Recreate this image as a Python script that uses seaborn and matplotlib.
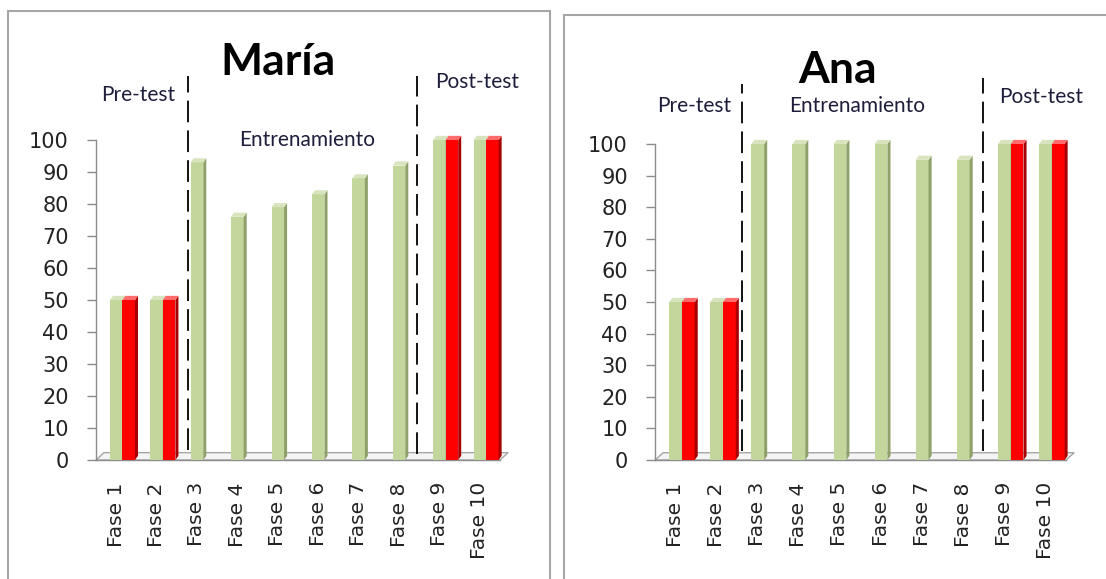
import matplotlib
matplotlib.use("Agg")
import matplotlib.pyplot as plt
from matplotlib.patches import Polygon, Rectangle
import numpy as np
import pandas as pd
import seaborn as sns

# Phases on the category axis
fases = ["Fase 1", "Fase 2", "Fase 3", "Fase 4", "Fase 5",
         "Fase 6", "Fase 7", "Fase 8", "Fase 9", "Fase 10"]

# Green series: score in every phase
maria_verde = [50, 50, 93, 76, 79, 83, 88, 92, 100, 100]
ana_verde = [50, 50, 100, 100, 100, 100, 95, 95, 100, 100]

# Red series: only the pre-test and post-test phases
fases_test = ["Fase 1", "Fase 2", "Fase 9", "Fase 10"]
maria_rojo = [50, 50, 100, 100]
ana_rojo = [50, 50, 100, 100]

y_ticks = list(range(0, 101, 10))

sns.set_theme(style="white")
plt.rcParams["font.family"] = ["DejaVu Sans"]

VERDE = "#C3D69B"
VERDE_LADO = "#8FA06A"
VERDE_TOPE = "#D8E4BE"
ROJO = "#FF0000"
ROJO_LADO = "#A80000"
ROJO_TOPE = "#FF6A6A"
GRIS = "#8C8C8C"
TEXTO = "#1E1E3C"
ANOTA_FONT = ["Lato", "DejaVu Sans"]

DX, DY = 0.075, 1.3  # depth of the 3-D look, in data units


def add_depth(ax, patches, side_color, top_color):
    for p in patches:
        x0, w, h = p.get_x(), p.get_width(), p.get_height()
        x1 = x0 + w
        z = p.get_zorder()
        p.set_clip_on(False)
        ax.add_patch(Polygon([(x1, 0), (x1 + DX, DY), (x1 + DX, h + DY), (x1, h)],
                             closed=True, fc=side_color, ec="none", zorder=z,
                             clip_on=False))
        ax.add_patch(Polygon([(x0, h), (x0 + DX, h + DY), (x1 + DX, h + DY), (x1, h)],
                             closed=True, fc=top_color, ec="none", zorder=z,
                             clip_on=False))


def draw_panel(ax, titulo, verde, rojo, cortes, pos_pre, pos_ent, pos_post, pos_tit):
    # floor of the plot
    floor = Polygon([(-0.5, 0), (9.5, 0), (9.5 + 0.2, 2.3), (-0.5 + 0.2, 2.3)],
                    closed=True, fc="#F4F4F4", ec="#A6A6A6", lw=1.0,
                    zorder=1, clip_on=False)
    ax.add_patch(floor)

    n0 = len(ax.patches)
    sns.barplot(x=fases, y=verde, order=fases, color=VERDE, saturation=1,
                width=0.31, ax=ax, edgecolor="none", zorder=3)
    verdes = [p for p in ax.patches[n0:] if np.isfinite(p.get_height()) and p.get_height() > 0]
    add_depth(ax, verdes, VERDE_LADO, VERDE_TOPE)

    n1 = len(ax.patches)
    df_rojo = pd.DataFrame({"fase": fases_test, "valor": rojo})
    sns.barplot(data=df_rojo, x="fase", y="valor", order=fases, color=ROJO,
                saturation=1, width=0.31, ax=ax, edgecolor="none", zorder=4)
    rojos = [p for p in ax.patches[n1:] if np.isfinite(p.get_height()) and p.get_height() > 0]
    for p in rojos:
        p.set_x(p.get_x() + p.get_width())
    add_depth(ax, rojos, ROJO_LADO, ROJO_TOPE)

    ax.set_xlim(-0.5, 9.5)
    ax.set_ylim(0, 100)
    ax.set_yticks(y_ticks)
    ax.set_yticklabels([str(v) for v in y_ticks])
    ax.set_xticks(range(len(fases)))
    ax.set_xticklabels(fases, rotation=90, va="top", ha="center")
    ax.set_xlabel("")
    ax.set_ylabel("")
    ax.tick_params(axis="y", length=6.5, width=1.0, color=GRIS, pad=13,
                   labelsize=15, labelcolor="#222222", left=True)
    ax.tick_params(axis="x", length=0, pad=16, labelsize=14.5, labelcolor="#222222")
    for s in ("top", "right"):
        ax.spines[s].set_visible(False)
    ax.spines["left"].set_color(GRIS)
    ax.spines["left"].set_linewidth(1.0)
    ax.spines["bottom"].set_color(GRIS)
    ax.spines["bottom"].set_linewidth(1.0)
    ax.set_facecolor("none")
    ax.grid(False)

    for xc, (y0, y1) in cortes:
        ax.plot([xc, xc], [y0, y1], color="black", lw=1.3, ls=(0, (12, 4.5)),
                clip_on=False, zorder=5)

    ax.text(*pos_pre, "Pre-test", ha="center", va="center", fontsize=15,
            color=TEXTO, family=ANOTA_FONT)
    ax.text(*pos_ent, "Entrenamiento", ha="center", va="center", fontsize=15,
            color=TEXTO, family=ANOTA_FONT)
    ax.text(*pos_post, "Post-test", ha="center", va="center", fontsize=15,
            color=TEXTO, family=ANOTA_FONT)
    ax.text(*pos_tit, titulo, ha="center", va="center", fontsize=32,
            fontweight="bold", color="black", family=ANOTA_FONT)


fig = plt.figure(figsize=(11.06, 5.79), dpi=100)
fig.patch.set_facecolor("white")

# panel frames
fig.patches.append(Rectangle((8 / 1106, -0.02), (550 - 8) / 1106, 1.02 - 11 / 579,
                             transform=fig.transFigure, fill=False, ec="#A6A6A6", lw=1.5))
fig.patches.append(Rectangle((564 / 1106, -0.02), 0.5, 1.02 - 15 / 579,
                             transform=fig.transFigure, fill=False, ec="#A6A6A6", lw=1.5))

ax1 = fig.add_axes([96 / 1106, 119 / 579, 404 / 1106, 320 / 579])
ax2 = fig.add_axes([655 / 1106, 119 / 579, 411 / 1106, 316 / 579])

draw_panel(ax1, "María", maria_verde, maria_rojo,
           cortes=[(1.78, (3, 120)), (7.45, (2, 120))],
           pos_pre=(0.54, 114), pos_ent=(4.72, 100), pos_post=(8.93, 118),
           pos_tit=(4.0, 124.5))
draw_panel(ax2, "Ana", ana_verde, ana_rojo,
           cortes=[(1.62, (3, 119)), (7.48, (3, 121))],
           pos_pre=(0.45, 112), pos_ent=(4.41, 112), pos_post=(8.89, 115),
           pos_tit=(3.95, 123.5))

fig.savefig("out.png", dpi=100, facecolor="white")
